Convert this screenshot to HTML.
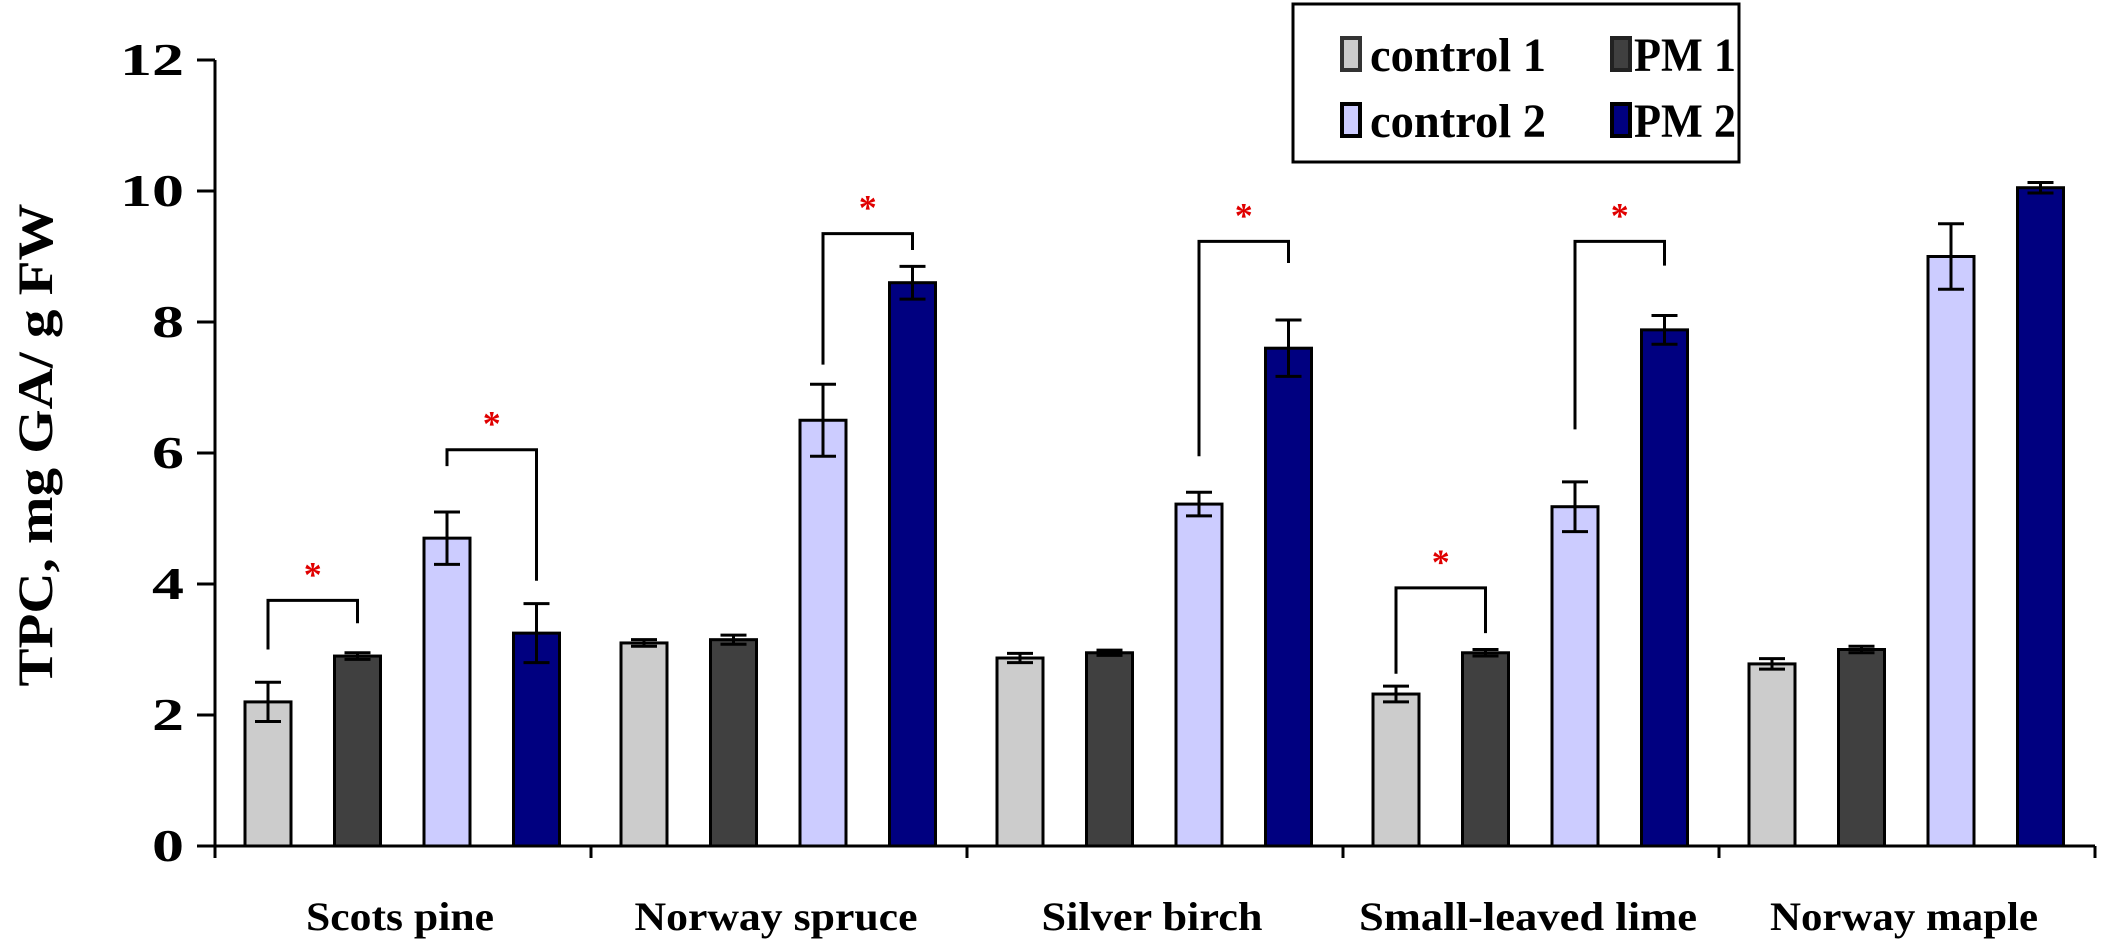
<!DOCTYPE html>
<html><head><meta charset="utf-8"><style>
html,body{margin:0;padding:0;background:#fff;}
svg{display:block;font-family:"Liberation Serif",serif;font-weight:bold;}
</style></head><body>
<svg id="chart" width="2105" height="947" viewBox="0 0 2105 947">
<g id="axes"></g>
<g id="bars"></g>
<g id="sig"></g>
<text transform="translate(52,445) rotate(-90)" text-anchor="middle" font-size="50" textLength="483" lengthAdjust="spacingAndGlyphs">TPC, mg GA/ g FW</text>
<g>
<rect x="1293" y="4" width="446" height="158" fill="#fff" stroke="#000" stroke-width="3"/>
<g><rect x="1342" y="38" width="18" height="32" fill="#cccccc" stroke="#333" stroke-width="4"/><text x="1370" y="71" font-size="48" textLength="176" lengthAdjust="spacingAndGlyphs">control 1</text></g>
<g><rect x="1612" y="38" width="18" height="32" fill="#404040" stroke="#222" stroke-width="4"/><text x="1634" y="71" font-size="48" textLength="102" lengthAdjust="spacingAndGlyphs">PM 1</text></g>
<g><rect x="1342" y="104" width="18" height="32" fill="#ccccff" stroke="#000" stroke-width="4"/><text x="1370" y="137" font-size="48" textLength="176" lengthAdjust="spacingAndGlyphs">control 2</text></g>
<g><rect x="1612" y="104" width="18" height="32" fill="#000080" stroke="#000" stroke-width="4"/><text x="1634" y="137" font-size="48" textLength="102" lengthAdjust="spacingAndGlyphs">PM 2</text></g>
</g>
</svg>
<script>
const categories=["Scots pine","Norway spruce","Silver birch","Small-leaved lime","Norway maple"];
const seriesNames=["control 1","PM 1","control 2","PM 2"];
const control1=[2.2,3.1,2.87,2.32,2.78];
const control1Err=[0.3,0.05,0.07,0.12,0.08];
const pm1=[2.9,3.15,2.95,2.95,3.0];
const pm1Err=[0.05,0.07,0.04,0.05,0.05];
const control2=[4.7,6.5,5.22,5.18,9.0];
const control2Err=[0.4,0.55,0.18,0.38,0.5];
const pm2=[3.25,8.6,7.6,7.88,10.05];
const pm2Err=[0.45,0.25,0.43,0.22,0.08];
const yTicks=[0,2,4,6,8,10,12];
// brackets: category, series a, series b, top value, left leg end, right leg end
const brackets=[[0,0,1,3.75,3.0,3.4],[0,2,3,6.05,5.8,4.05],[1,2,3,9.35,7.35,9.1],[2,2,3,9.23,5.95,8.9],[3,0,1,3.94,2.63,3.25],[3,2,3,9.23,6.36,8.86]];
const colors=["#cccccc","#404040","#ccccff","#000080"];
const labelWidths=[188,283,221,338,268];
const NS="http://www.w3.org/2000/svg";
const X0=215,GW=376,Y0=846,PX=65.5;
function y(v){return Y0-v*PX;}
function xc(c,s){return X0+c*GW+53+s*89.5;}
function mk(tag,attrs,parent){const e=document.createElementNS(NS,tag);for(const k in attrs)e.setAttribute(k,attrs[k]);parent.appendChild(e);return e;}
const axes=document.getElementById('axes'),bars=document.getElementById('bars'),sig=document.getElementById('sig');
let l=mk('line',{x1:X0,y1:y(12),x2:X0,y2:Y0,stroke:'#000','stroke-width':3},axes);


l=mk('line',{x1:X0-18,y1:Y0,x2:X0+GW*5,y2:Y0,stroke:'#000','stroke-width':3},axes);


yTicks.forEach(t=>{
  const tk=mk('line',{x1:X0-18,y1:y(t),x2:X0,y2:y(t),stroke:'#000','stroke-width':3},axes);
  
  
  const s=String(t);
  const tx=mk('text',{x:184,y:y(t)+15,'text-anchor':'end','font-size':45,textLength:s.length*32,lengthAdjust:'spacingAndGlyphs'},axes);
  tx.textContent=s;
  
  
});
for(let c=0;c<=5;c++){
  const tk=mk('line',{x1:X0+c*GW,y1:Y0,x2:X0+c*GW,y2:Y0+12,stroke:'#000','stroke-width':3},axes);
  
  
}
categories.forEach((cat,c)=>{
  const tx=mk('text',{x:X0+c*GW+GW/2-3,y:930,'text-anchor':'middle','font-size':40,textLength:labelWidths[c],lengthAdjust:'spacingAndGlyphs'},axes);
  tx.textContent=cat;
  
  
});
const vals=[control1,pm1,control2,pm2],errs=[control1Err,pm1Err,control2Err,pm2Err];
categories.forEach((cat,c)=>{
  for(let s=0;s<4;s++){
    const v=vals[s][c],e=errs[s][c],cx=xc(c,s);
    const r=mk('rect',{x:cx-23,y:y(v),width:46,height:Y0-y(v),fill:colors[s],stroke:'#000','stroke-width':3},bars);
    
    
    const g=mk('g',{stroke:'#000','stroke-width':3},bars);
    
    
    mk('line',{x1:cx,y1:y(v+e),x2:cx,y2:y(v-e)},g);
    mk('line',{x1:cx-13,y1:y(v+e),x2:cx+13,y2:y(v+e)},g);
    mk('line',{x1:cx-13,y1:y(v-e),x2:cx+13,y2:y(v-e)},g);
  }
});
brackets.forEach(b=>{
  const xa=xc(b[0],b[1]),xb=xc(b[0],b[2]);
  const p=mk('polyline',{points:`${xa},${y(b[4])} ${xa},${y(b[3])} ${xb},${y(b[3])} ${xb},${y(b[5])}`,fill:'none',stroke:'#000','stroke-width':3},sig);
  
  
  const s=mk('text',{x:(xa+xb)/2,y:y(b[3])-14,'text-anchor':'middle','font-size':36,fill:'#e00000'},sig);
  s.textContent='*';
  
  
});
</script>
</body></html>
